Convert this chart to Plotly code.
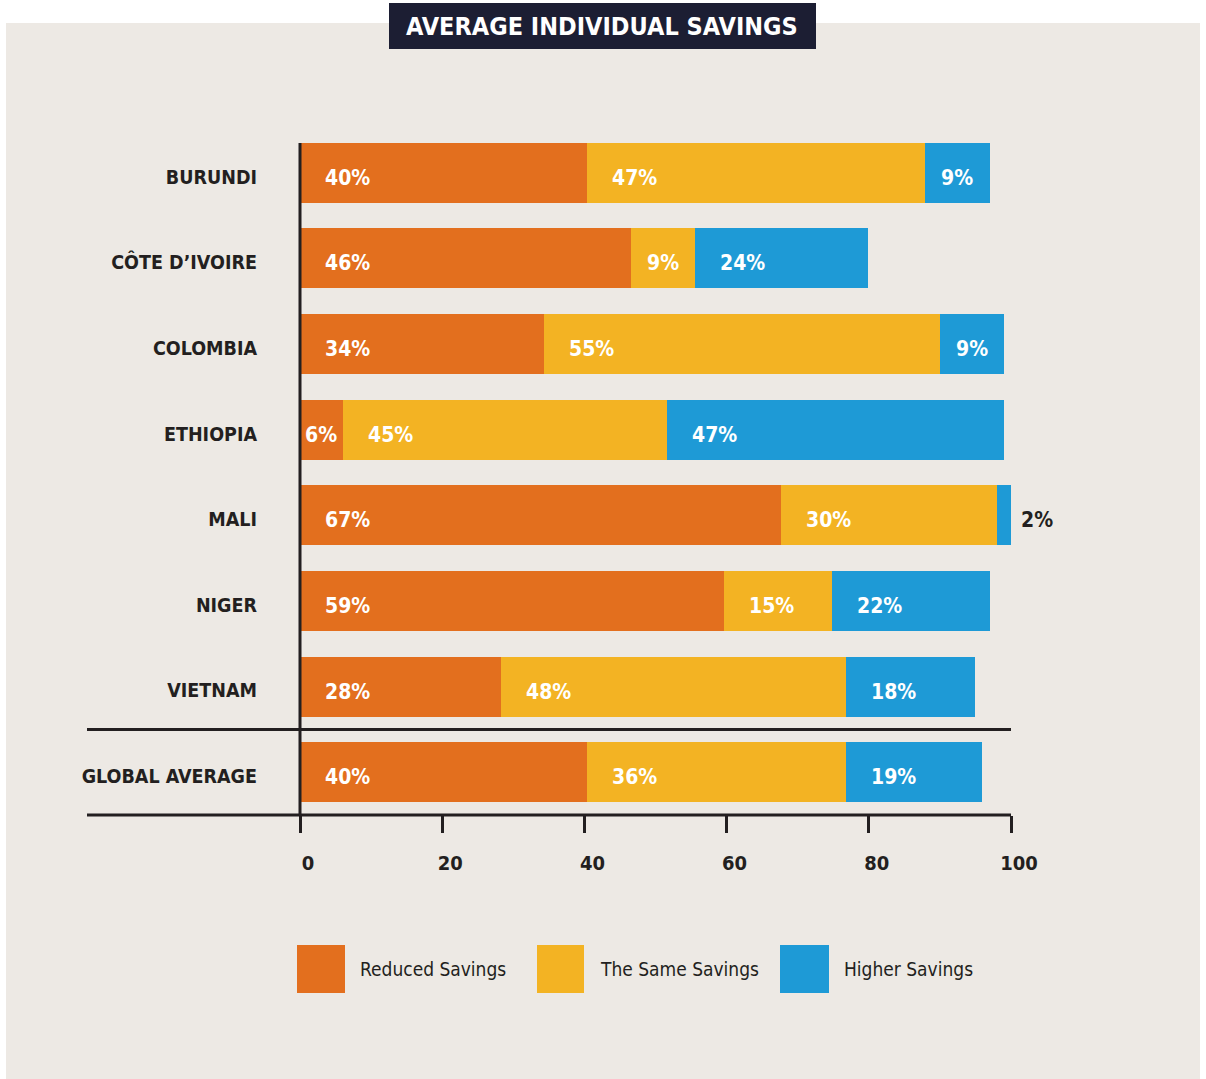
import plotly.graph_objects as go

# ---------------- data ----------------
countries = ["BURUNDI", "CÔTE D’IVOIRE", "COLOMBIA", "ETHIOPIA", "MALI", "NIGER", "VIETNAM", "GLOBAL AVERAGE"]
reduced = [40.4, 46.6, 34.3, 6.0, 67.6, 59.6, 28.3, 40.4]
same = [47.5, 9.0, 55.7, 45.6, 30.4, 15.2, 48.5, 36.4]
higher = [9.1, 24.3, 9.0, 47.4, 2.0, 22.2, 18.1, 19.1]
reduced_lbl = ["40%", "46%", "34%", "6%", "67%", "59%", "28%", "40%"]
same_lbl = ["47%", "9%", "55%", "45%", "30%", "15%", "48%", "36%"]
higher_lbl = ["9%", "24%", "9%", "47%", "2%", "22%", "18%", "19%"]
series_names = ["Reduced Savings", "The Same Savings", "Higher Savings"]
x_ticks = [0, 20, 40, 60, 80, 100]

# ---------------- style ----------------
ORANGE = "#e36f1e"
YELLOW = "#f3b323"
BLUE = "#1e9ad6"
DARK = "#231f20"
PANEL = "#ede9e4"
TITLE_BG = "#1c1e33"
COND = "DejaVu Sans Condensed, Liberation Sans Narrow, sans-serif"
colors = [ORANGE, YELLOW, BLUE]

W, H = 1206, 1079
L, R, T, B = 300, 1011, 130, 815  # plot area in pixels


def px(x):
    return (x - L) / (R - L)


def py(y):
    return (B - y) / (B - T)


fig = go.Figure()
for vals, name, col in zip([reduced, same, higher], series_names, colors):
    fig.add_trace(go.Bar(
        y=countries, x=vals, name=name, orientation="h",
        marker=dict(color=col, line=dict(width=0)),
        hoverinfo="x+y", showlegend=False,
    ))

annotations = []
# segment labels
for i, c in enumerate(countries):
    base = 0.0
    for vals, lbls in zip([reduced, same, higher], [reduced_lbl, same_lbl, higher_lbl]):
        v = vals[i]
        if v < 5:
            annotations.append(dict(x=min(base + v, 100), y=c, xref="x", yref="y", text=f"<b>{lbls[i]}</b>",
                                    showarrow=False, xanchor="left", xshift=8, yshift=-5,
                                    font=dict(family=COND, size=21, color=DARK)))
        elif v < 10:
            annotations.append(dict(x=base + v / 2, y=c, xref="x", yref="y", text=f"<b>{lbls[i]}</b>",
                                    showarrow=False, xanchor="center", yshift=-5,
                                    font=dict(family=COND, size=21, color="white")))
        else:
            annotations.append(dict(x=base, y=c, xref="x", yref="y", text=f"<b>{lbls[i]}</b>",
                                    showarrow=False, xanchor="left", xshift=23, yshift=-5,
                                    font=dict(family=COND, size=21, color="white")))
        base += v

# title
annotations.append(dict(x=px(602), y=py(27), xref="paper", yref="paper",
                        text="<b>AVERAGE INDIVIDUAL SAVINGS</b>", showarrow=False,
                        xanchor="center", yanchor="middle",
                        font=dict(family=COND, size=25, color="white")))

# legend labels
leg_sq = [(297, 345), (537, 584), (780, 829)]
leg_tx = [358, 598, 842]
for name, tx in zip(series_names, leg_tx):
    annotations.append(dict(x=px(tx), y=py(969), xref="paper", yref="paper", text=name,
                            showarrow=False, xanchor="left", yanchor="middle",
                            font=dict(family=COND, size=19, color=DARK)))

shapes = [
    # panel
    dict(type="rect", xref="paper", yref="paper", x0=px(6), x1=px(1200), y0=py(1079), y1=py(23),
         fillcolor=PANEL, line=dict(width=0), layer="below"),
    # title box
    dict(type="rect", xref="paper", yref="paper", x0=px(389), x1=px(816), y0=py(49), y1=py(3),
         fillcolor=TITLE_BG, line=dict(width=0), layer="below"),
    # separator line
    dict(type="line", xref="paper", yref="paper", x0=px(87), x1=1, y0=py(729.5), y1=py(729.5),
         line=dict(color=DARK, width=3)),
    # bottom baseline
    dict(type="line", xref="paper", yref="paper", x0=px(87), x1=1, y0=0, y1=0,
         line=dict(color=DARK, width=3)),
    # vertical axis line
    dict(type="line", xref="paper", yref="paper", x0=0, x1=0, y0=0, y1=py(143),
         line=dict(color=DARK, width=3)),
]
for (x0, x1), col in zip(leg_sq, colors):
    shapes.append(dict(type="rect", xref="paper", yref="paper", x0=px(x0), x1=px(x1),
                       y0=py(993), y1=py(945), fillcolor=col, line=dict(width=0)))

fig.update_layout(
    width=W, height=H,
    margin=dict(l=L, r=W - R, t=T, b=H - B, pad=0),
    barmode="stack", bargap=0.3,
    paper_bgcolor="white", plot_bgcolor="rgba(0,0,0,0)",
    showlegend=False,
    annotations=annotations, shapes=shapes,
    xaxis=dict(range=[0, 100], tickvals=x_ticks, ticktext=[f"<b>{t}</b>" for t in x_ticks],
               showgrid=False, zeroline=False, showline=False,
               ticks="outside", ticklen=17, tickwidth=3, tickcolor=DARK,
               ticklabelstandoff=13, ticklabelshift=8,
               tickfont=dict(family=COND, size=20, color=DARK), fixedrange=True),
    yaxis=dict(categoryorder="array", categoryarray=countries, autorange="reversed",
               tickvals=countries, ticktext=[f"<b>{c}</b>" for c in countries],
               showgrid=False, zeroline=False, showline=False, ticks="",
               ticklabelstandoff=42, ticklabelshift=-4,
               tickfont=dict(family=COND, size=19.5, color=DARK), fixedrange=True),
    font=dict(family=COND, color=DARK),
)

fig.write_html("out.html")
